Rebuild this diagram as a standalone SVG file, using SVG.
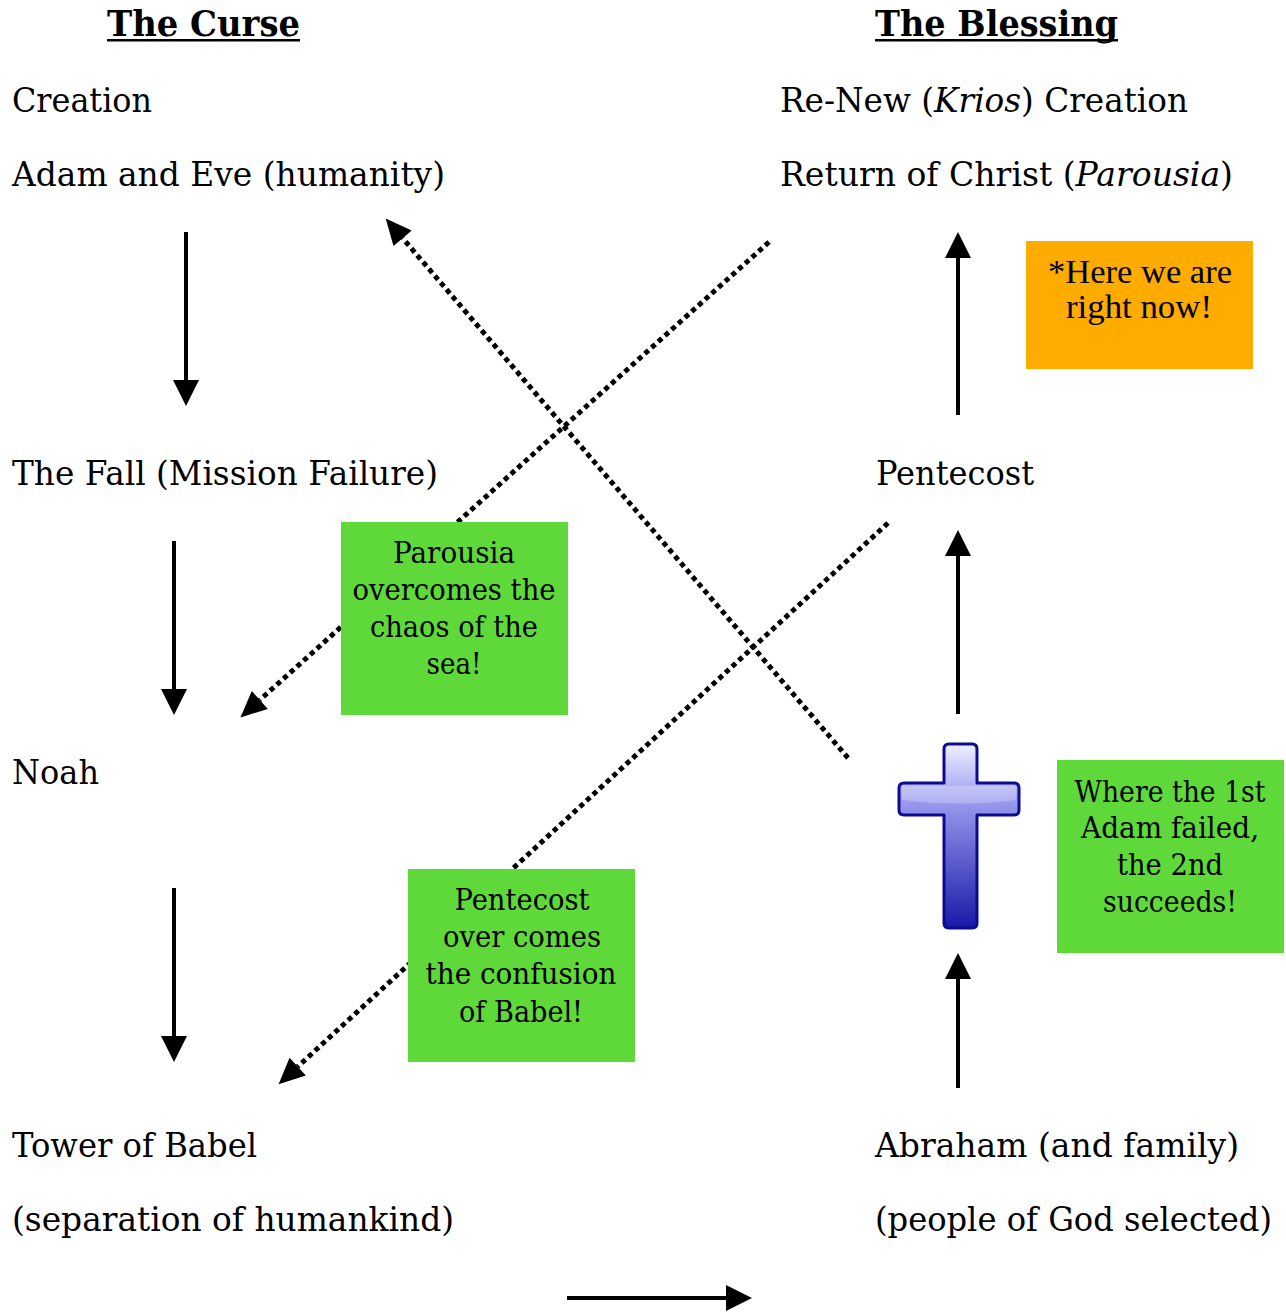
<svg xmlns="http://www.w3.org/2000/svg" width="1286" height="1312" viewBox="0 0 1286 1312">
<style>
.t{font-family:Georgia,"DejaVu Serif","Liberation Serif",serif;font-size:33px;fill:#000}
.h{font-family:Georgia,"DejaVu Serif","Liberation Serif",serif;font-size:35px;font-weight:bold;fill:#000}
.b{font-family:Georgia,"DejaVu Serif","Liberation Serif",serif;font-size:29px;fill:#000;text-anchor:middle}
.o{font-family:"Liberation Serif","Times New Roman",serif;font-size:33px;fill:#000;text-anchor:middle}
.solid{stroke:#000;stroke-width:4;fill:none}
.dot{stroke:#000;stroke-width:5;stroke-dasharray:5 4;fill:none}
.green{fill:#5fd93a}
.orange{fill:#ffab00}
</style>
<defs>
<marker id="ah" markerUnits="userSpaceOnUse" markerWidth="26" markerHeight="26" refX="0" refY="13" orient="auto" overflow="visible">
<path d="M0,0 L26,13 L0,26 Z" fill="#000"/>
</marker>
<marker id="dh" markerUnits="userSpaceOnUse" markerWidth="26" markerHeight="24" refX="0" refY="12" orient="auto" overflow="visible">
<path d="M0,0 L26,12 L0,24 Z" fill="#000"/>
</marker>
<linearGradient id="cg" x1="0" y1="0" x2="0" y2="1">
<stop offset="0" stop-color="#f0f0ff"/>
<stop offset="0.3" stop-color="#9c9cf0"/>
<stop offset="1" stop-color="#1818a8"/>
</linearGradient>
</defs>
<rect width="1286" height="1312" fill="#fff"/>

<g id="headers">
<text class="h" x="107" y="36" textLength="193" lengthAdjust="spacingAndGlyphs">The Curse</text>
<rect x="107" y="39" width="193" height="2.5" fill="#000"/>
<text class="h" x="875" y="36" textLength="243" lengthAdjust="spacingAndGlyphs">The Blessing</text>
<rect x="875" y="39" width="243" height="2.5" fill="#000"/>
</g>

<g id="connectors">
<line class="dot" x1="848" y1="758" x2="402.6" y2="238.2" marker-end="url(#dh)"/>
<line class="dot" x1="769" y1="242" x2="259.8" y2="700" marker-end="url(#dh)"/>
<line class="dot" x1="888" y1="523" x2="297.7" y2="1066.7" marker-end="url(#dh)"/>
<line class="solid" x1="186" y1="232" x2="186" y2="380" marker-end="url(#ah)"/>
<line class="solid" x1="174" y1="541" x2="174" y2="689" marker-end="url(#ah)"/>
<line class="solid" x1="174" y1="888" x2="174" y2="1036" marker-end="url(#ah)"/>
<line class="solid" x1="958" y1="415" x2="958" y2="258" marker-end="url(#ah)"/>
<line class="solid" x1="958" y1="714" x2="958" y2="556" marker-end="url(#ah)"/>
<line class="solid" x1="958" y1="1088" x2="958" y2="979" marker-end="url(#ah)"/>
<line class="solid" x1="567" y1="1298" x2="726" y2="1298" marker-end="url(#ah)"/>
</g>

<g id="creation"><text class="t" x="12" y="112" textLength="140" lengthAdjust="spacingAndGlyphs">Creation</text></g>
<g id="adam-eve"><text class="t" x="12" y="186" textLength="433" lengthAdjust="spacingAndGlyphs">Adam and Eve (humanity)</text></g>
<g id="fall"><text class="t" x="12" y="485" textLength="426" lengthAdjust="spacingAndGlyphs">The Fall (Mission Failure)</text></g>
<g id="noah"><text class="t" x="12" y="784" textLength="87" lengthAdjust="spacingAndGlyphs">Noah</text></g>
<g id="babel">
<text class="t" x="12" y="1157" textLength="245" lengthAdjust="spacingAndGlyphs">Tower of Babel</text>
<text class="t" x="12" y="1231" textLength="442" lengthAdjust="spacingAndGlyphs">(separation of humankind)</text>
</g>
<g id="renew"><text class="t" x="780" y="112" textLength="408" lengthAdjust="spacingAndGlyphs">Re-New (<tspan font-style="italic">Krios</tspan>) Creation</text></g>
<g id="return"><text class="t" x="780" y="186" textLength="453" lengthAdjust="spacingAndGlyphs">Return of Christ (<tspan font-style="italic">Parousia</tspan>)</text></g>
<g id="pentecost"><text class="t" x="876" y="485" textLength="158" lengthAdjust="spacingAndGlyphs">Pentecost</text></g>
<g id="abraham">
<text class="t" x="875" y="1157" textLength="364" lengthAdjust="spacingAndGlyphs">Abraham (and family)</text>
<text class="t" x="875" y="1231" textLength="397" lengthAdjust="spacingAndGlyphs">(people of God selected)</text>
</g>

<g id="note-now">
<rect class="orange" x="1026" y="241" width="227" height="128"/>
<text class="o" x="1140" y="283" textLength="184" lengthAdjust="spacingAndGlyphs">*Here we are</text>
<text class="o" x="1139" y="318" textLength="146" lengthAdjust="spacingAndGlyphs">right now!</text>
</g>

<g id="note-parousia">
<rect class="green" x="341" y="522" width="227" height="193"/>
<text class="b" x="454" y="563" textLength="122" lengthAdjust="spacingAndGlyphs">Parousia</text>
<text class="b" x="454" y="600" textLength="203" lengthAdjust="spacingAndGlyphs">overcomes the</text>
<text class="b" x="454" y="637" textLength="168" lengthAdjust="spacingAndGlyphs">chaos of the</text>
<text class="b" x="454" y="674" textLength="55" lengthAdjust="spacingAndGlyphs">sea!</text>
</g>

<g id="note-pentecost">
<rect class="green" x="408" y="869" width="227" height="193"/>
<text class="b" x="522" y="910" textLength="135" lengthAdjust="spacingAndGlyphs">Pentecost</text>
<text class="b" x="522" y="947" textLength="158" lengthAdjust="spacingAndGlyphs">over comes</text>
<text class="b" x="521" y="984" textLength="191" lengthAdjust="spacingAndGlyphs">the confusion</text>
<text class="b" x="521" y="1022" textLength="124" lengthAdjust="spacingAndGlyphs">of Babel!</text>
</g>

<g id="note-adam">
<rect class="green" x="1057" y="760" width="227" height="193"/>
<text class="b" x="1170" y="802" textLength="191" lengthAdjust="spacingAndGlyphs">Where the 1st</text>
<text class="b" x="1170" y="838" textLength="178" lengthAdjust="spacingAndGlyphs">Adam failed,</text>
<text class="b" x="1170" y="875" textLength="106" lengthAdjust="spacingAndGlyphs">the 2nd</text>
<text class="b" x="1170" y="912" textLength="134" lengthAdjust="spacingAndGlyphs">succeeds!</text>
</g>

<g id="cross">
<path d="M949,744 H972 Q977,744 977,749 V783 H1014 Q1019,783 1019,788 V810 Q1019,815 1014,815 H977 V923 Q977,928 972,928 H949 Q944,928 944,923 V815 H904 Q899,815 899,810 V788 Q899,783 904,783 H944 V749 Q944,744 949,744 Z" fill="url(#cg)" stroke="#0c0c90" stroke-width="3" stroke-linejoin="round"/>
<path d="M902,786 H1016 V800 Q960,807 902,800 Z" fill="#ffffff" fill-opacity="0.25"/>
</g>
</svg>
